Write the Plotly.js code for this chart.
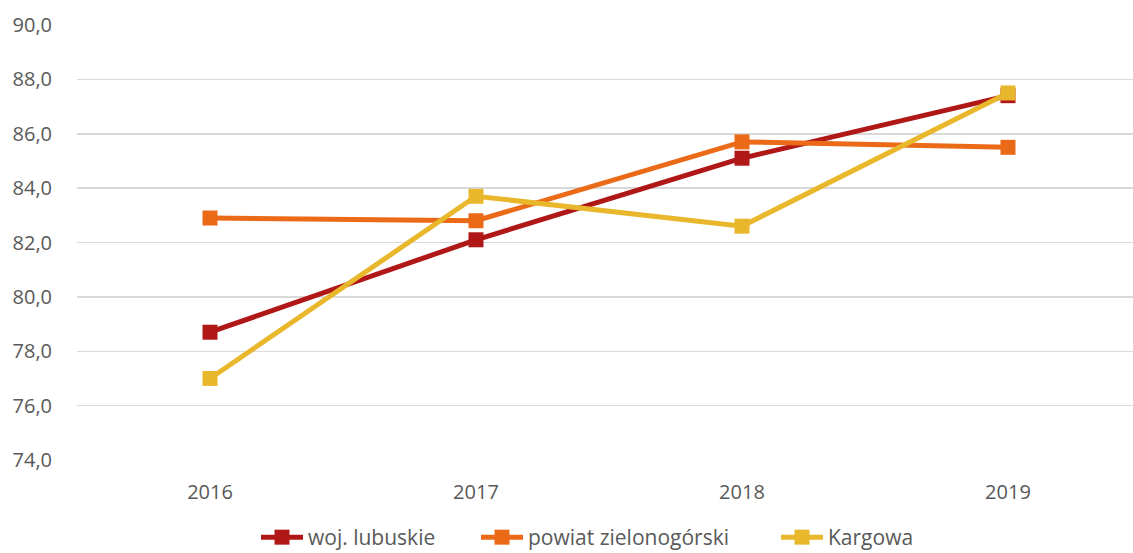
<!DOCTYPE html>
<html>
<head>
<meta charset="utf-8">
<script src="https://cdn.plot.ly/plotly-3.0.1.min.js"></script>
<style>html,body{margin:0;padding:0;background:#fff;}#chart{width:1133px;height:553px;}</style>
</head>
<body>
<div id="chart"></div>
<script>
const years = ['2016', '2017', '2018', '2019'];
const seriesNames = ['woj. lubuskie', 'powiat zielonogórski', 'Kargowa'];
const wojLubuskie = [78.7, 82.1, 85.1, 87.4];
const powiatZielonogorski = [82.9, 82.8, 85.7, 85.5];
const kargowa = [77.0, 83.7, 82.6, 87.5];
const colors = ['#B01818', '#EA6A17', '#E8B72C'];

const legendIds = ['legend', 'legend2', 'legend3'];
const allValues = [wojLubuskie, powiatZielonogorski, kargowa];
const traces = allValues.map((vals, i) => ({
  x: years,
  y: vals,
  name: seriesNames[i],
  type: 'scatter',
  mode: 'lines+markers',
  legend: legendIds[i],
  line: {color: colors[i], width: 5},
  marker: {symbol: 'square', size: 15, color: colors[i]}
}));

const legendStarts = [256, 476, 776];
const legendBase = {
  orientation: 'h',
  xref: 'container', yref: 'container',
  xanchor: 'left', yanchor: 'middle',
  y: 0.028,
  itemwidth: 42,
  font: {size: 21, color: '#595959'},
  bgcolor: 'rgba(0,0,0,0)'
};
function legendAt(px) {
  return Object.assign({}, legendBase, {x: px / 1133});
}

const layout = {
  width: 1133,
  height: 553,
  margin: {l: 77, r: 0, t: 25, b: 93},
  paper_bgcolor: '#ffffff',
  plot_bgcolor: '#ffffff',
  separators: ', ',
  font: {family: 'Open Sans, sans-serif', size: 20, color: '#595959'},
  showlegend: true,
  legend: legendAt(legendStarts[0]),
  legend2: legendAt(legendStarts[1]),
  legend3: legendAt(legendStarts[2]),
  xaxis: {
    type: 'category',
    range: [-0.5, 3.47],
    showgrid: false,
    zeroline: false,
    showline: false,
    ticks: '',
    ticklabelstandoff: 18,
    tickfont: {size: 20, color: '#595959'}
  },
  yaxis: {
    range: [74, 90],
    dtick: 2,
    tick0: 74,
    tickformat: '.1f',
    showgrid: true,
    gridcolor: '#D9D9D9',
    gridwidth: 1.5,
    zeroline: false,
    showline: false,
    ticks: '',
    ticklabelstandoff: 24,
    tickfont: {size: 20, color: '#595959'}
  }
};

Plotly.newPlot('chart', traces, layout, {displayModeBar: false, staticPlot: true});
</script>
</body>
</html>
